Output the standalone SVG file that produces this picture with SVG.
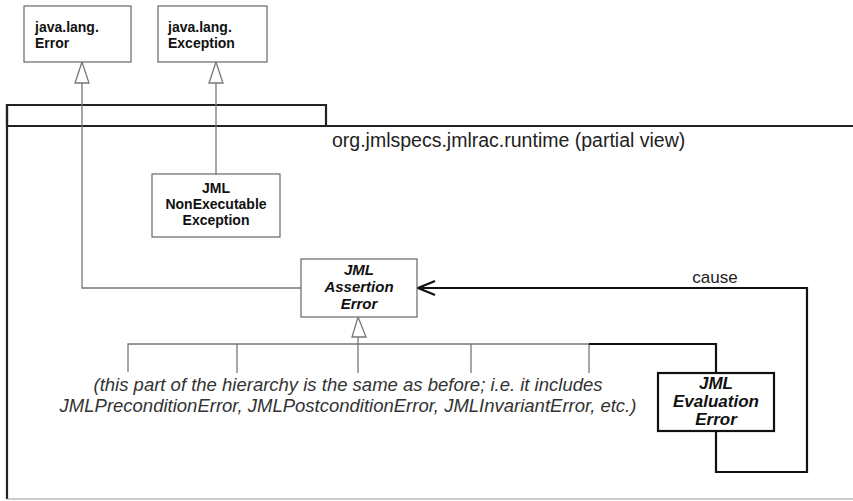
<svg xmlns="http://www.w3.org/2000/svg" width="853" height="501" viewBox="0 0 853 501">
<style>
.box{fill:#fff;stroke:#666;stroke-width:1.2}
.boxb{fill:#fff;stroke:#111;stroke-width:2.2}
.gen{fill:none;stroke:#777;stroke-width:1.3}
.bold{fill:none;stroke:#111;stroke-width:2.2}
.tri{fill:#fff;stroke:#777;stroke-width:1.3}
.frame{fill:none;stroke:#222;stroke-width:2.2}
.lbl{font-family:"Liberation Sans",Arial,sans-serif;font-weight:bold;font-size:14px;fill:#111}
.lblm{font-family:"Liberation Sans",Arial,sans-serif;font-weight:bold;font-size:15px;fill:#111}
.lbll{font-family:"Liberation Sans",Arial,sans-serif;font-weight:bold;font-size:17px;fill:#111}
.it{font-style:italic}
.note{font-family:"Liberation Sans",Arial,sans-serif;font-style:italic;font-size:18.5px;fill:#333;text-anchor:middle}
.c{text-anchor:middle}
</style>
<rect width="853" height="501" fill="#fff"/>
<g id="package">
<path class="frame" d="M7,126 V105 H326 V126"/>
<line class="frame" x1="7" y1="126" x2="853" y2="126" stroke-width="2.5"/>
<line class="frame" x1="7" y1="105" x2="7" y2="499"/>
<line x1="7" y1="499" x2="853" y2="499" stroke="#999" stroke-width="1.2"/>
<text x="332" y="147" font-family="'Liberation Sans',Arial,sans-serif" font-size="19.5px" fill="#222">org.jmlspecs.jmlrac.runtime (partial view)</text>
</g>
<g id="connectors">
<path class="gen" d="M82,83 V288 H301"/>
<polygon class="tri" points="82,62 75,83 89,83"/>
<path class="gen" d="M216,83 V174"/>
<polygon class="tri" points="216,62 209,83 223,83"/>
<polygon class="tri" points="358,317 352,337 366,337"/>
<path class="gen" d="M358,337 V373"/>
<path class="gen" d="M128,372 V344 H589"/>
<path class="gen" d="M237,344 V373"/>
<path class="gen" d="M471,344 V373"/>
<path class="gen" d="M589,344 V373"/>
<path class="bold" d="M589,344 H716 V373"/>
<path class="bold" d="M716,431 V472 H807 V288 H418"/>
<path class="bold" d="M435,281 L418,288 L435,295"/>
<text x="715" y="283" font-family="'Liberation Sans',Arial,sans-serif" font-size="17px" fill="#222" text-anchor="middle">cause</text>
</g>
<g id="java-lang-Error">
<rect class="box" x="24" y="6" width="107" height="56"/>
<text class="lbl" x="35" y="32">java.lang.</text>
<text class="lbl" x="35" y="48">Error</text>
</g>
<g id="java-lang-Exception">
<rect class="box" x="158" y="6" width="109" height="56"/>
<text class="lbl" x="168" y="32">java.lang.</text>
<text class="lbl" x="168" y="48">Exception</text>
</g>
<g id="JMLNonExecutableException">
<rect class="box" x="152" y="174" width="128" height="63"/>
<text class="lbl c" x="216" y="193">JML</text>
<text class="lbl c" x="216" y="209">NonExecutable</text>
<text class="lbl c" x="216" y="225">Exception</text>
</g>
<g id="JMLAssertionError">
<rect class="box" x="301" y="259" width="116" height="58"/>
<text class="lblm it c" x="359" y="275">JML</text>
<text class="lblm it c" x="359" y="292">Assertion</text>
<text class="lblm it c" x="359" y="309">Error</text>
</g>
<g id="JMLEvaluationError">
<rect class="boxb" x="658" y="373" width="116" height="58"/>
<text class="lbll it c" x="716" y="389">JML</text>
<text class="lbll it c" x="716" y="407">Evaluation</text>
<text class="lbll it c" x="716" y="425">Error</text>
</g>
<g id="note">
<text class="note" x="348" y="391">(this part of the hierarchy is the same as before; i.e. it includes</text>
<text class="note" x="348" y="412">JMLPreconditionError, JMLPostconditionError, JMLInvariantError, etc.)</text>
</g>
</svg>
